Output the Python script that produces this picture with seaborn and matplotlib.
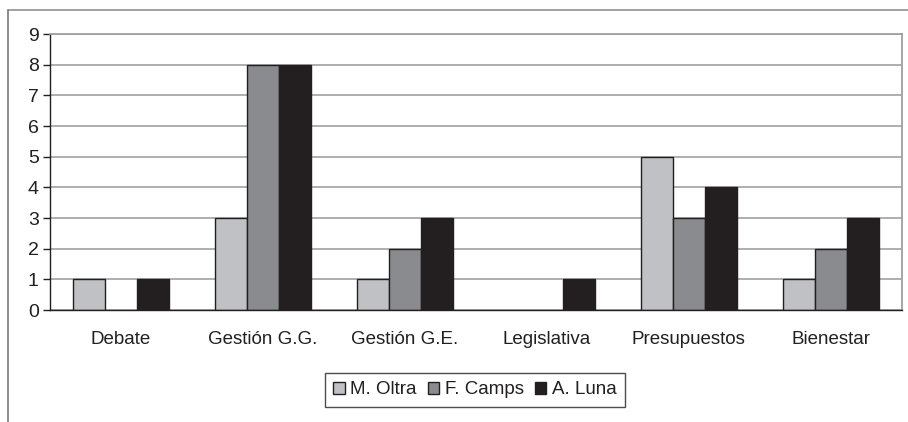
import pandas as pd
import seaborn as sns
import matplotlib.pyplot as plt
from matplotlib.lines import Line2D

categories = ['Debate', 'Gestión G.G.', 'Gestión G.E.', 'Legislativa', 'Presupuestos', 'Bienestar']
series = ['M. Oltra', 'F. Camps', 'A. Luna']
m_oltra = [1, 3, 1, 0, 5, 1]
f_camps = [0, 8, 2, 0, 3, 2]
a_luna = [1, 8, 3, 1, 4, 3]
colors = ['#c0c1c4', '#8a8b8e', '#231f20']

rows = []
for name, vals in zip(series, [m_oltra, f_camps, a_luna]):
    for cat, v in zip(categories, vals):
        rows.append({'cat': cat, 'serie': name, 'valor': v})
df = pd.DataFrame(rows)

sns.set_style('white')
plt.rcParams['font.family'] = ['Liberation Sans', 'DejaVu Sans']

fig = plt.figure(figsize=(9.08, 4.22), dpi=100)
ax = fig.add_axes([0.055, 0.2654, 0.9383, 0.654])

sns.barplot(data=df, x='cat', y='valor', hue='serie', order=categories, hue_order=series,
            palette=colors, width=0.675, gap=0, edgecolor='#231f20', linewidth=1,
            saturation=1, ax=ax, legend=False)

# barras de altura cero no se dibujan
for p in ax.patches:
    if p.get_height() == 0:
        p.set_visible(False)

ax.set_ylim(0, 9)
ax.set_xlim(-0.5, len(categories) - 0.5)
ax.set_yticks(range(10))
ax.yaxis.grid(True, color='#a8a8a8', linewidth=1.3)
ax.set_axisbelow(True)
ax.set_xlabel('')
ax.set_ylabel('')

ax.set_xticks(range(len(categories)))
ax.set_xticklabels(categories)
ax.set_xticks([i - 0.5 for i in range(len(categories) + 1)], minor=True)
ax.tick_params(axis='x', which='major', length=0, pad=15, labelsize=13.5, labelcolor='#231f20')
ax.tick_params(axis='x', which='minor', length=5, width=1, color='#231f20', direction='out')
ax.tick_params(axis='y', length=5, width=1, color='#231f20', direction='out', labelsize=14,
               labelcolor='#231f20', pad=3, left=True)

for s in ['left', 'bottom']:
    ax.spines[s].set_color('#231f20')
    ax.spines[s].set_linewidth(1)
for s in ['top', 'right']:
    ax.spines[s].set_color('#a0a0a0')
    ax.spines[s].set_linewidth(1.3)

# marco exterior
fig.add_artist(Line2D([8 / 908, 1], [1 - 10 / 422, 1 - 10 / 422], color='#9a9a9a', linewidth=1.3))
fig.add_artist(Line2D([8 / 908, 8 / 908], [0, 1 - 10 / 422], color='#7a7a7a', linewidth=1.2))

handles = [plt.Rectangle((0, 0), 1, 1, facecolor=c, edgecolor='#231f20', linewidth=1) for c in colors]
leg = fig.legend(handles, series, loc='center', bbox_to_anchor=(475 / 908, 1 - 390 / 422), ncol=3,
                 frameon=True, fancybox=False, fontsize=13.5, handlelength=0.6, handleheight=0.6,
                 handletextpad=0.3, columnspacing=0.6, borderpad=0.45, borderaxespad=0,
                 edgecolor='#231f20')
leg.get_frame().set_linewidth(1)
for t in leg.get_texts():
    t.set_color('#231f20')

fig.savefig('out.png', dpi=100)
